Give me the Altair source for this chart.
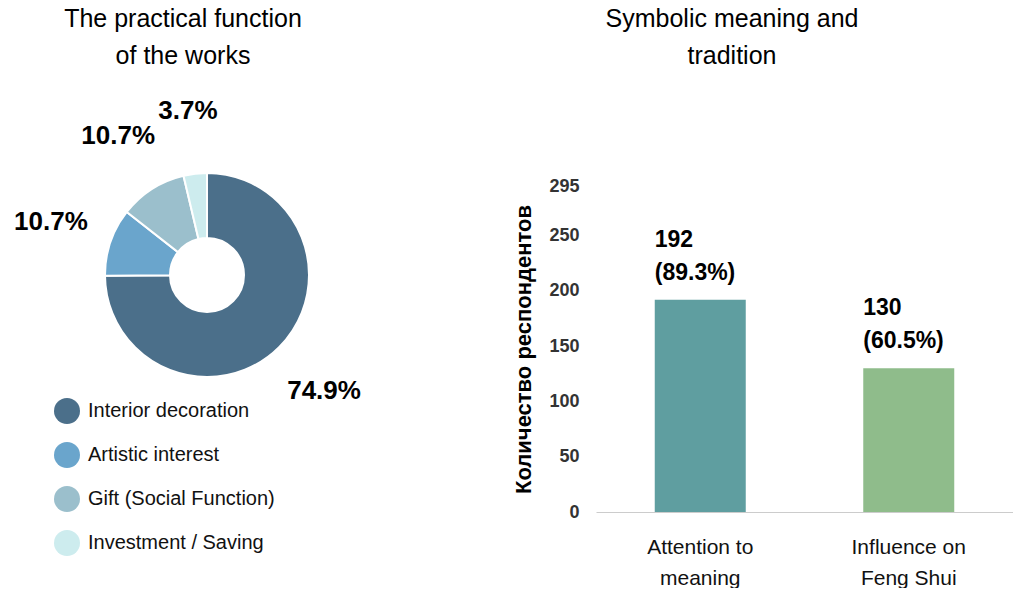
import altair as alt
import pandas as pd

# ---- data ----
pie_categories = ["Interior decoration", "Artistic interest", "Gift (Social Function)", "Investment / Saving"]
pie_percent = [74.9, 10.7, 10.7, 3.7]
pie_colors = ["#4b6f8a", "#6aa5cc", "#9bbfcc", "#cdecee"]

bar_categories = ["Attention to meaning", "Influence on Feng Shui"]
bar_counts = [192, 130]
bar_percent = [89.3, 60.5]
bar_colors = ["#5f9ea0", "#8fbc8b"]
bar_label_lines = [["Attention to", "meaning"], ["Influence on", "Feng Shui"]]
y_ticks = [0, 50, 100, 150, 200, 250, 295]

left_title = ["The practical function", "of the works"]
right_title = ["Symbolic meaning and", "tradition"]
y_title = "Количество респондентов"

FONT = "Liberation Sans"

pie_df = pd.DataFrame({
    "category": pie_categories,
    "pct": pie_percent,
    "order": list(range(len(pie_categories))),
})
pie_df["label"] = pie_df["pct"].map(lambda v: f"{v:.1f}%")

bar_df = pd.DataFrame({
    "category": bar_categories,
    "count": bar_counts,
    "pct": bar_percent,
})
bar_df["label"] = [[str(c), f"({p:.1f}%)"] for c, p in zip(bar_counts, bar_percent)]

one_row = pd.DataFrame({"k": [0]})

# ---- donut ----
CX, CY = 207, 89

base = alt.Chart(pie_df).encode(
    theta=alt.Theta("pct:Q", stack=True),
    order=alt.Order("order:Q"),
)

arcs = base.mark_arc(outerRadius=102, innerRadius=37, stroke="white", strokeWidth=2).encode(
    x=alt.value(CX), y=alt.value(CY),
    color=alt.Color(
        "category:N",
        scale=alt.Scale(domain=pie_categories, range=pie_colors),
        sort=pie_categories,
        legend=alt.Legend(
            title=None, orient="none", legendX=54, legendY=212,
            symbolType="circle", symbolSize=676, symbolStrokeWidth=0,
            labelFontSize=20, labelFont=FONT, labelColor="#111111",
            rowPadding=18, labelOffset=8, labelLimit=400,
        ),
    ),
)

pct_text = base.mark_text(radius=165, fontSize=26, fontWeight="bold", font=FONT, color="black").encode(
    x=alt.value(CX), y=alt.value(CY),
    text="label:N",
)

left_title_mark = alt.Chart(one_row).mark_text(
    fontSize=25, font=FONT, color="black", lineHeight=37, align="center", baseline="middle",
).encode(x=alt.value(183), y=alt.value(-167), text=alt.value(left_title))

donut = alt.layer(arcs, pct_text, left_title_mark).properties(width=420, height=326)

# ---- bars ----
label_expr = " : ".join(
    [f"datum.label == '{c}' ? {lines!r}" for c, lines in zip(bar_categories, bar_label_lines)]
) + " : datum.label"

bar_base = alt.Chart(bar_df).encode(
    x=alt.X(
        "category:N", sort=bar_categories,
        scale=alt.Scale(paddingInner=0, paddingOuter=0),
        axis=alt.Axis(
            title=None, labelAngle=0, ticks=False, domain=True,
            domainColor="#cccccc", domainWidth=1,
            labelFontSize=21, labelFont=FONT, labelColor="#111111",
            labelPadding=24, labelLineHeight=31, labelExpr=label_expr,
        ),
    ),
    y=alt.Y(
        "count:Q",
        scale=alt.Scale(domain=[0, 295], nice=False),
        axis=alt.Axis(
            title=y_title, titleFontSize=22, titleFont=FONT,
            titleFontWeight="bold", titleColor="black", titlePadding=13,
            values=y_ticks, ticks=False, domain=False, grid=False,
            labelFontSize=18, labelFont=FONT, labelFontWeight="bold",
            labelColor="#333333", labelPadding=17,
        ),
    ),
)

bars = bar_base.mark_bar(size=91).encode(
    color=alt.Color("category:N", scale=alt.Scale(domain=bar_categories, range=bar_colors), legend=None),
)

bar_text = bar_base.mark_text(
    align="left", baseline="alphabetic", dx=-45.5, dy=-53,
    fontSize=23, fontWeight="bold", font=FONT, color="black", lineHeight=33,
).encode(text="label")

right_title_mark = alt.Chart(one_row).mark_text(
    fontSize=25, font=FONT, color="black", lineHeight=37, align="center", baseline="middle",
).encode(x=alt.value(136), y=alt.value(-167), text=alt.value(right_title))

barchart = alt.layer(bars, bar_text, right_title_mark).properties(width=417, height=326)

chart = alt.hconcat(donut, barchart, spacing=92).resolve_scale(color="independent").properties(
    padding={"left": 0, "top": 7, "right": 0, "bottom": 0},
).configure(font=FONT).configure_view(stroke=None)

chart.save("out.html", embed_options={"renderer": "svg", "actions": False})
